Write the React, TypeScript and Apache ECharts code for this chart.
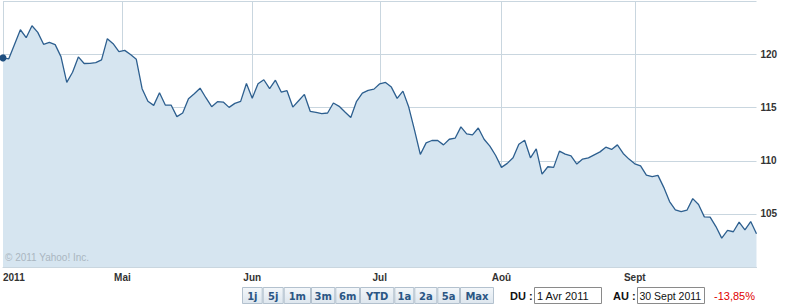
import React, { useEffect, useRef } from "react";
import * as echarts from "echarts";

// Closing values, one per trading day, 1 Apr 2011 .. 30 Sept 2011
const prices: number[] = [
  119.69, 119.6, 120.97, 122.34, 121.59, 122.72, 122.09, 120.97, 121.15, 120.94,
  119.81, 117.38, 118.34, 119.78, 119.16, 119.18, 119.25, 119.5, 121.5, 121.03,
  120.28, 120.4, 120.0, 119.56, 116.79, 115.6, 115.22, 116.41, 115.25, 115.25,
  114.16, 114.5, 115.85, 116.32, 116.84, 115.94, 115.1, 115.57, 115.53, 115.03,
  115.41, 115.6, 117.28, 115.9, 117.25, 117.63, 116.79, 117.59, 116.47, 116.6,
  115.06, 115.66, 116.25, 114.66, 114.56, 114.44, 114.5, 115.44, 115.13, 114.59,
  114.07, 115.6, 116.37, 116.63, 116.75, 117.25, 117.38, 116.94, 115.88, 116.56,
  115.06, 112.88, 110.6, 111.69, 111.91, 111.91, 111.5, 112.03, 112.13, 113.19,
  112.53, 112.44, 113.09, 112.03, 111.38, 110.5, 109.38, 109.76, 110.28, 111.56,
  111.94, 110.28, 111.12, 108.75, 109.44, 109.38, 110.91, 110.63, 110.47, 109.69,
  110.16, 110.28, 110.56, 110.84, 111.28, 111.07, 111.5, 110.69, 110.16, 109.72,
  109.53, 108.66, 108.5, 108.63, 107.5, 106.16, 105.38, 105.22, 105.35, 106.44,
  105.88, 104.72, 104.69, 103.81, 102.72, 103.44, 103.32, 104.22, 103.5, 104.28,
  103.13,
];

// Month boundaries, expressed as trading-day positions
const monthPositions: number[] = [0, 20.6, 43, 65, 86, 109];
const monthLabels: string[] = ["2011", "Mai", "Jun", "Jul", "Aoû", "Sept"];

const yMin = 100;
const yMax = 125;
const yStep = 5;

const rangeButtons: string[] = ["1j", "5j", "1m", "3m", "6m", "YTD", "1a", "2a", "5a", "Max"];
const rangeButtonEdges: number[] = [242, 262.7, 283.7, 311, 335.3, 360, 394.3, 414.3, 437.3, 460, 494];
const fromLabel = "DU :";
const fromDate = "1 Avr 2011";
const toLabel = "AU :";
const toDate = "30 Sept 2011";
const changeText = "-13,85%";
const watermark = "© 2011 Yahoo! Inc.";

export default function App() {
  const ref = useRef<HTMLDivElement>(null);

  useEffect(() => {
    if (!ref.current) return;
    const chart = echarts.init(ref.current, undefined, { renderer: "svg" });

    const grid = "#c9d6df";
    const seriesData: any[] = prices.map((v, i) =>
      i === 0
        ? { value: [i, v], symbol: "circle", symbolSize: 7, itemStyle: { color: "#1f4f80" } }
        : { value: [i, v] }
    );

    const graphics: any[] = [];
    graphics.push({
      type: "text",
      x: 5,
      y: 257,
      z: 100,
      silent: true,
      style: {
        text: watermark,
        fill: "#aab6c0",
        font: "10px 'Liberation Sans', Arial, sans-serif",
        textVerticalAlign: "middle",
      },
    });
    const by = 287;
    const bh = 16;
    rangeButtons.forEach((b, i) => {
      const x0 = rangeButtonEdges[i];
      const x1 = rangeButtonEdges[i + 1];
      graphics.push({
        type: "rect",
        z: 100,
        shape: { x: x0 + 0.5, y: by + 0.5, width: x1 - x0 - 1, height: bh },
        style: {
          fill: new echarts.graphic.LinearGradient(0, 0, 0, 1, [
            { offset: 0, color: "#f4f7fa" },
            { offset: 1, color: "#dde6ee" },
          ]),
          stroke: "#b3c1ce",
          lineWidth: 1,
        },
      });
      graphics.push({
        type: "text",
        z: 101,
        x: (x0 + x1) / 2,
        y: by + bh / 2 + 1,
        style: {
          text: b,
          fill: "#2b5684",
          font: "bold 10px 'DejaVu Sans', Verdana, sans-serif",
          textAlign: "center",
          textVerticalAlign: "middle",
        },
      });
    });
    const cy = 295.5;
    graphics.push({
      type: "text",
      z: 100,
      x: 510,
      y: cy,
      style: { text: fromLabel, fill: "#111", font: "bold 11px 'Liberation Sans', Arial, sans-serif", textVerticalAlign: "middle" },
    });
    graphics.push({
      type: "rect",
      z: 100,
      shape: { x: 534.5, y: 287.5, width: 67, height: 16 },
      style: { fill: "#fff", stroke: "#8a8a8a", lineWidth: 1 },
    });
    graphics.push({
      type: "text",
      z: 101,
      x: 537,
      y: cy,
      style: { text: fromDate, fill: "#111", font: "11px 'Liberation Sans', Arial, sans-serif", textVerticalAlign: "middle" },
    });
    graphics.push({
      type: "text",
      z: 100,
      x: 613,
      y: cy,
      style: { text: toLabel, fill: "#111", font: "bold 11px 'Liberation Sans', Arial, sans-serif", textVerticalAlign: "middle" },
    });
    graphics.push({
      type: "rect",
      z: 100,
      shape: { x: 637.5, y: 287.5, width: 67, height: 16 },
      style: { fill: "#fff", stroke: "#8a8a8a", lineWidth: 1 },
    });
    graphics.push({
      type: "text",
      z: 101,
      x: 639.5,
      y: cy,
      style: { text: toDate, fill: "#111", font: "10.5px 'Liberation Sans', Arial, sans-serif", textVerticalAlign: "middle" },
    });
    graphics.push({
      type: "text",
      z: 100,
      x: 714,
      y: cy,
      style: { text: changeText, fill: "#e00000", font: "11px 'Liberation Sans', Arial, sans-serif", textVerticalAlign: "middle" },
    });

    chart.setOption({
      animation: false,
      backgroundColor: "#ffffff",
      grid: { left: 1.5, top: 1.5, width: 755, height: 265.5, containLabel: false },
      xAxis: {
        type: "value",
        min: 0,
        max: prices.length - 1,
        axisLine: { show: true, lineStyle: { color: grid, width: 1 } },
        axisTick: { show: false, customValues: monthPositions },
        splitLine: { show: true, lineStyle: { color: grid, width: 1 } },
        axisLabel: {
          customValues: monthPositions,
          formatter: (v: number) => {
            const idx = monthPositions.findIndex((p) => Math.abs(p - v) < 1e-6);
            return idx >= 0 ? monthLabels[idx] : "";
          },
          alignMinLabel: "left",
          margin: 5,
          color: "#333",
          fontWeight: "bold",
          fontSize: 10,
          fontFamily: "'Liberation Sans', Arial, sans-serif",
        },
      },
      yAxis: {
        type: "value",
        position: "right",
        min: yMin,
        max: yMax,
        interval: yStep,
        axisLine: { show: true, lineStyle: { color: grid, width: 1 } },
        axisTick: { show: false },
        splitLine: { show: true, lineStyle: { color: grid, width: 1 } },
        axisLabel: {
          showMinLabel: false,
          showMaxLabel: false,
          margin: 4,
          color: "#333",
          fontWeight: "bold",
          fontSize: 10,
          fontFamily: "'Liberation Sans', Arial, sans-serif",
        },
      },
      series: [
        {
          type: "line",
          data: seriesData,
          symbol: "none",
          showSymbol: true,
          lineStyle: { color: "#2d5f8f", width: 1.3 },
          areaStyle: { color: "#d6e5f0", opacity: 1, origin: "start" },
          z: 3,
        },
      ],
      graphic: graphics,
    });

    return () => chart.dispose();
  }, []);

  return (
    <div
      ref={ref}
      style={{ position: "fixed", left: 0, top: 0, width: 788, height: 306, background: "#fff" }}
    />
  );
}
